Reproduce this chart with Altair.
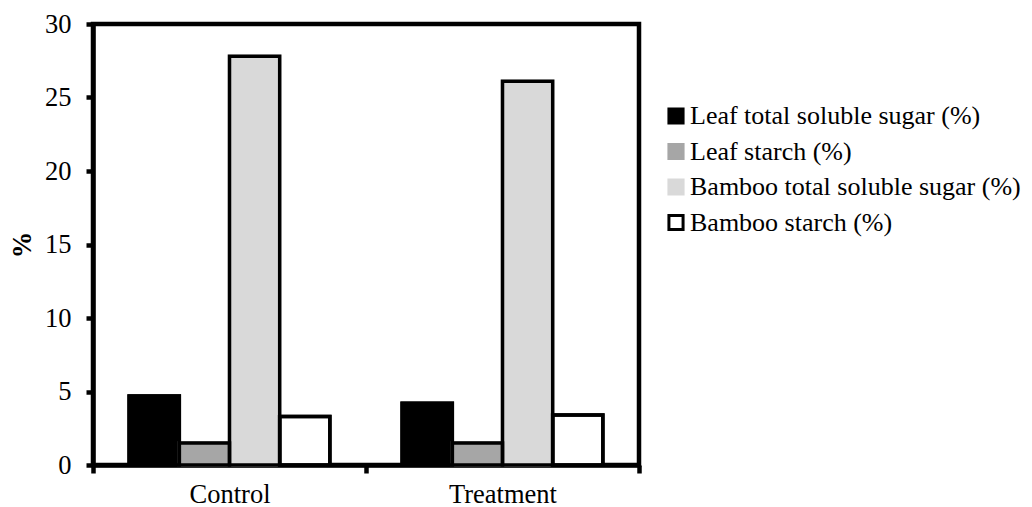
import altair as alt
import pandas as pd

categories = ["Control", "Treatment"]
series = [
    "Leaf total soluble sugar (%)",
    "Leaf starch (%)",
    "Bamboo total soluble sugar (%)",
    "Bamboo starch (%)",
]
control_values = [4.7, 1.5, 27.8, 3.3]
treatment_values = [4.2, 1.5, 26.1, 3.4]
fill_colors = ["#000000", "#a6a6a6", "#d9d9d9", "#ffffff"]
legend_strokes = ["#000000", "#a6a6a6", "#d9d9d9", "#000000"]
y_ticks = [0, 5, 10, 15, 20, 25, 30]

rows = []
for cat, vals in zip(categories, [control_values, treatment_values]):
    for s, v in zip(series, vals):
        rows.append({"group": cat, "series": s, "value": v})
df = pd.DataFrame(rows)

FONT = "'Liberation Serif', 'DejaVu Serif', serif"
FS = 26.5
LW = 4.5

x_enc = alt.X(
    "group:N",
    sort=categories,
    scale=alt.Scale(paddingInner=0, paddingOuter=0),
    axis=alt.Axis(
        title=None, labelAngle=0, tickBand="extent",
        domainColor="black", domainWidth=LW,
        tickColor="black", tickWidth=LW, tickSize=8,
        labelFont=FONT, labelFontSize=FS, labelColor="black", labelPadding=8,
    ),
)
y_enc = alt.Y(
    "value:Q",
    scale=alt.Scale(domain=[0, 30], nice=False),
    axis=alt.Axis(
        values=y_ticks, grid=False, title="%",
        titleFont=FONT, titleFontSize=FS, titleFontWeight="bold", titleColor="black",
        titlePadding=8,
        domainColor="black", domainWidth=LW,
        tickColor="black", tickWidth=LW, tickSize=7,
        labelFont=FONT, labelFontSize=FS, labelColor="black", labelPadding=15,
    ),
)
xo_enc = alt.XOffset(
    "series:N", sort=series,
    scale=alt.Scale(paddingInner=0, paddingOuter=0.72),
)

legend = alt.Legend(
    title=None, orient="none", legendX=570, legendY=79,
    labelFont=FONT, labelFontSize=26, labelColor="black", labelLimit=500,
    symbolType="square", symbolSize=200, symbolStrokeWidth=3,
    rowPadding=7.5, labelOffset=1,
)

bars = alt.Chart(df).mark_bar(strokeWidth=3.5).encode(
    x=x_enc, y=y_enc, xOffset=xo_enc,
    fill=alt.Fill("series:N", sort=series,
                  scale=alt.Scale(domain=series, range=fill_colors), legend=legend),
    stroke=alt.Stroke("series:N", sort=series,
                      scale=alt.Scale(domain=series, range=legend_strokes), legend=legend),
)
outlines = alt.Chart(df).mark_bar(
    fill="white", fillOpacity=0, stroke="black", strokeWidth=3.5
).encode(x=x_enc, y=y_enc, xOffset=xo_enc)

chart = alt.layer(bars, outlines).properties(
    width=546, height=441,
    padding={"left": 85, "top": 16, "right": 385, "bottom": 42},
    autosize=alt.AutoSizeParams(type="none"),
).configure_view(stroke="black", strokeWidth=LW)

chart.save("out.html", embed_options={"renderer": "svg", "actions": False})
